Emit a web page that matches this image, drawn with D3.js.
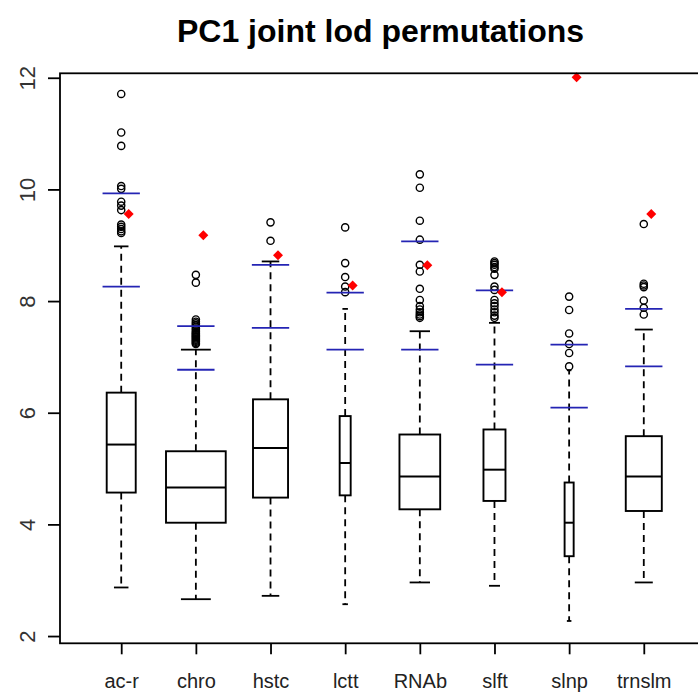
<!DOCTYPE html>
<html>
<head>
<meta charset="utf-8">
<script src="https://cdn.jsdelivr.net/npm/d3@7"></script>
<style>
  body { margin: 0; background: #fff; }
  text { font-family: "Liberation Sans", Arial, sans-serif; }
</style>
</head>
<body>
<div id="chart"></div>
<script>
// categories + box summaries
const categories = ["ac-r", "chro", "hstc", "lctt", "RNAb", "slft", "slnp", "trnslm"];
const counts = [236, 1000, 344, 34, 465, 136, 23, 364];   // box width ~ sqrt(n)
const whiskerLow = [2.87, 2.66, 2.72, 2.57, 2.96, 2.90, 2.27, 2.96];
const q1 = [4.57, 4.03, 4.48, 4.52, 4.27, 4.42, 3.43, 4.24];
const median = [5.43, 4.66, 5.37, 5.10, 4.86, 4.98, 4.03, 4.86];
const q3 = [6.36, 5.31, 6.24, 5.94, 5.61, 5.70, 4.75, 5.58];
const whiskerHigh = [8.98, 7.13, 8.71, 7.86, 7.46, 7.61, 6.76, 7.49];
const outliers = [
    [11.71, 11.02, 10.78, 10.06, 10.01, 9.78, 9.71, 9.63, 9.37, 9.33, 9.29, 9.25, 9.22],
    [8.47, 8.33, 7.67, 7.63, 7.60, 7.57, 7.54, 7.51, 7.48, 7.45, 7.43, 7.41, 7.39,
     7.37, 7.35, 7.33, 7.31, 7.29, 7.27, 7.25, 7.23],
    [9.41, 9.08],
    [9.32, 8.68, 8.43, 8.26, 8.16],
    [10.27, 10.03, 9.44, 9.10, 8.65, 8.53, 8.22, 8.02, 7.91, 7.85, 7.80, 7.76, 7.73, 7.70],
    [8.71, 8.68, 8.65, 8.61, 8.58, 8.47, 8.26, 8.20, 8.02, 7.96, 7.91, 7.85, 7.80, 7.74, 7.70],
    [8.08, 7.84, 7.42, 7.23, 7.07, 6.83],
    [9.38, 8.31, 8.28, 8.25, 8.01, 7.88, 7.76]
];
// blue threshold lines and red observed lod
const thresholdHigh = [9.93, 7.55, 8.65, 8.15, 9.07, 8.19, 7.22, 7.86];
const thresholdLow = [8.26, 6.77, 7.52, 7.13, 7.13, 6.86, 6.09, 6.83];
const observed = [9.56, 9.18, 8.82, 8.28, 8.64, 8.16, 12.01, 9.56];
const yTicks = [2, 4, 6, 8, 10, 12];

const width = 698;
const height = 695;
const margin = {top: 73.3, bottom: 51.7, left: 60, right: -7};
const innerWidth = width - margin.left - margin.right;
const innerHeight = height - margin.top - margin.bottom;

const boxes = categories.map((c, i) => ({
    cat: c, n: counts[i], lo: whiskerLow[i], q1: q1[i], med: median[i],
    q3: q3[i], hi: whiskerHigh[i], out: outliers[i],
    thHi: thresholdHigh[i], thLo: thresholdLow[i], obs: observed[i]
}));

const svg = d3.select("#chart")
    .append("svg")
    .attr("width", width)
    .attr("height", height);

const xScale = d3.scalePoint()
    .domain(categories)
    .range([margin.left, margin.left + innerWidth])
    .padding(0.82);

const yScale = d3.scaleLinear()
    .domain([1.87, 12.08])
    .range([margin.top + innerHeight, margin.top]);

const step = xScale.step();
const maxN = d3.max(counts);
const boxW = d => 0.8 * step * Math.sqrt(d.n / maxN);

// title
svg.append("text")
    .attr("x", margin.left + innerWidth / 2 - 2)
    .attr("y", 42)
    .attr("text-anchor", "middle")
    .attr("font-size", 32)
    .attr("font-weight", "bold")
    .text("PC1 joint lod permutations");

const g = svg.append("g");

// whiskers (dashed)
g.selectAll("line.wu").data(boxes).join("line")
    .attr("x1", d => xScale(d.cat)).attr("x2", d => xScale(d.cat))
    .attr("y1", d => yScale(d.q3)).attr("y2", d => yScale(d.hi))
    .attr("stroke", "#000").attr("stroke-width", 1.8).attr("stroke-dasharray", "7,5");
g.selectAll("line.wl").data(boxes).join("line")
    .attr("x1", d => xScale(d.cat)).attr("x2", d => xScale(d.cat))
    .attr("y1", d => yScale(d.q1)).attr("y2", d => yScale(d.lo))
    .attr("stroke", "#000").attr("stroke-width", 1.8).attr("stroke-dasharray", "7,5");

// staples
["hi", "lo"].forEach(k => {
    g.append("g").selectAll("line").data(boxes).join("line")
        .attr("x1", d => xScale(d.cat) - boxW(d) / 4)
        .attr("x2", d => xScale(d.cat) + boxW(d) / 4)
        .attr("y1", d => yScale(d[k])).attr("y2", d => yScale(d[k]))
        .attr("stroke", "#000").attr("stroke-width", 1.8);
});

// boxes
g.append("g").selectAll("rect").data(boxes).join("rect")
    .attr("x", d => xScale(d.cat) - boxW(d) / 2)
    .attr("y", d => yScale(d.q3))
    .attr("width", boxW)
    .attr("height", d => yScale(d.q1) - yScale(d.q3))
    .attr("fill", "#fff")
    .attr("stroke", "#000")
    .attr("stroke-width", 1.9);

g.append("g").selectAll("line").data(boxes).join("line")
    .attr("x1", d => xScale(d.cat) - boxW(d) / 2)
    .attr("x2", d => xScale(d.cat) + boxW(d) / 2)
    .attr("y1", d => yScale(d.med)).attr("y2", d => yScale(d.med))
    .attr("stroke", "#000").attr("stroke-width", 2);

// outliers
const outPts = boxes.flatMap(d => d.out.map(v => ({cat: d.cat, v: v})));
g.append("g").selectAll("circle").data(outPts).join("circle")
    .attr("cx", d => xScale(d.cat))
    .attr("cy", d => yScale(d.v))
    .attr("r", 3.6)
    .attr("fill", "none")
    .attr("stroke", "#000")
    .attr("stroke-width", 1.4);

// blue threshold segments
["thHi", "thLo"].forEach(k => {
    g.append("g").selectAll("line").data(boxes).join("line")
        .attr("x1", d => xScale(d.cat) - step / 4)
        .attr("x2", d => xScale(d.cat) + step / 4)
        .attr("y1", d => yScale(d[k])).attr("y2", d => yScale(d[k]))
        .attr("stroke", "#2424b4").attr("stroke-width", 1.8);
});

// red observed points
g.append("g").selectAll("path").data(boxes).join("path")
    .attr("d", d3.symbol(d3.symbolSquare, 50))
    .attr("transform", d => `translate(${xScale(d.cat) + step * 0.1},${yScale(d.obs)}) rotate(45)`)
    .attr("fill", "#f00");

// frame
svg.append("rect")
    .attr("x", margin.left).attr("y", margin.top)
    .attr("width", innerWidth).attr("height", innerHeight)
    .attr("fill", "none").attr("stroke", "#000").attr("stroke-width", 1.8);

// axes
const yAxis = svg.append("g")
    .attr("transform", `translate(${margin.left},0)`)
    .call(d3.axisLeft(yScale).tickValues(yTicks).tickSize(12).tickSizeOuter(0));
yAxis.select(".domain").remove();
yAxis.selectAll("line").attr("stroke-width", 1.8);
yAxis.selectAll("text")
    .attr("x", 0).attr("dy", 0)
    .attr("transform", "translate(-25,0) rotate(-90)")
    .attr("text-anchor", "middle")
    .attr("font-size", 22)
    .attr("fill", "#333");

const xAxis = svg.append("g")
    .attr("transform", `translate(0,${margin.top + innerHeight})`)
    .call(d3.axisBottom(xScale).tickSize(11).tickSizeOuter(0));
xAxis.select(".domain").remove();
xAxis.selectAll("line").attr("stroke-width", 1.8);
xAxis.selectAll("text")
    .attr("y", 0).attr("dy", 0)
    .attr("transform", "translate(0,45)")
    .attr("font-size", 20)
    .attr("fill", "#222");

svg.selectAll(".tick text").attr("font-family", "\"Liberation Sans\", Arial, sans-serif");
</script>
</body>
</html>
